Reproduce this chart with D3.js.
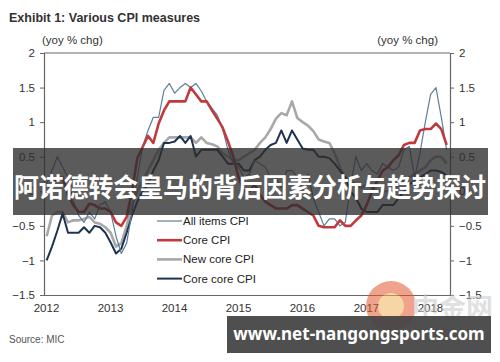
<!DOCTYPE html>
<html>
<head>
<meta charset="utf-8">
<script src="https://cdn.jsdelivr.net/npm/d3@7"></script>
<style>
  body { margin: 0; background: #fff; }
  text { font-family: "Liberation Sans", Arial, sans-serif; }
</style>
</head>
<body>
<svg id="chart" width="500" height="362"></svg>
<script>
var svg = d3.select('#chart');

// monthly, Jan 2012 .. Apr 2018
var allItems = [0.1,0.3,0.5,0.35,0.2,-0.15,-0.35,-0.45,-0.3,-0.4,-0.2,-0.15,
  -0.3,-0.65,-0.9,-0.75,-0.3,0.2,0.65,0.88,1.07,1.07,1.46,1.56,
  1.42,1.5,1.56,1.5,1.56,1.45,1.3,1.2,1.1,0.9,0.6,0.4,
  0.35,0.2,0.25,0.45,0.4,0.35,0.2,0.2,0.05,0.3,0.3,0.2,
  0.0,0.25,-0.1,-0.3,-0.5,-0.4,-0.4,-0.5,-0.45,0.1,0.5,0.3,
  0.4,0.3,0.25,0.4,0.35,0.3,0.35,0.6,0.65,0.2,0.55,1.0,
  1.4,1.5,1.07,0.6];
var coreCPI = [-0.05,0.1,0.2,0.2,-0.05,-0.2,-0.3,-0.3,-0.18,-0.2,-0.25,-0.25,
  -0.3,-0.45,-0.5,-0.37,0.0,0.48,0.64,0.8,0.7,0.98,1.17,1.3,
  1.3,1.3,1.3,1.5,1.4,1.3,1.3,1.17,1.05,0.92,0.72,0.5,
  0.2,0.0,0.0,0.1,-0.05,-0.15,-0.2,-0.25,-0.25,-0.25,-0.2,-0.2,
  -0.25,-0.3,-0.35,-0.5,-0.52,-0.52,-0.52,-0.42,-0.5,-0.5,-0.42,-0.35,
  -0.2,0.0,0.15,0.3,0.35,0.45,0.52,0.67,0.7,0.7,0.88,0.9,
  0.9,0.98,0.9,0.67];
var newCore = [-0.65,-0.35,-0.3,-0.3,-0.45,-0.42,-0.42,-0.4,-0.37,-0.45,-0.47,-0.52,
  -0.6,-0.8,-0.75,-0.5,-0.2,0.0,0.15,0.3,0.45,0.6,0.7,0.78,
  0.78,0.78,0.78,0.78,0.7,0.78,0.7,0.68,0.65,0.55,0.5,0.45,
  0.45,0.5,0.55,0.6,0.7,0.78,0.9,1.05,1.13,1.1,1.3,1.06,
  1.0,0.95,0.87,0.75,0.72,0.7,0.55,0.35,0.2,0.15,0.1,0.05,
  0.1,0.05,0.0,0.0,0.0,0.05,0.1,0.15,0.2,0.25,0.3,0.35,
  0.45,0.5,0.5,0.4];
var coreCore = [-1.0,-0.8,-0.57,-0.32,-0.6,-0.6,-0.6,-0.52,-0.6,-0.5,-0.52,-0.6,
  -0.74,-0.9,-0.83,-0.6,-0.35,-0.15,0.0,0.1,0.3,0.45,0.7,0.7,
  0.72,0.8,0.7,0.8,0.5,0.6,0.6,0.6,0.6,0.5,0.4,0.4,
  0.4,0.3,0.3,0.45,0.5,0.6,0.67,0.7,0.88,0.7,0.88,0.75,
  0.62,0.6,0.6,0.5,0.5,0.48,0.4,0.3,0.2,0.0,-0.1,-0.25,
  -0.3,-0.3,-0.3,-0.2,-0.2,-0.2,-0.1,0.0,0.1,0.15,0.2,0.25,
  0.3,0.3,0.28,0.23];

var yTicks = [2, 1.5, 1, 0.5, 0, -0.5, -1, -1.5];
var yearTicks = [2012, 2013, 2014, 2015, 2016, 2017, 2018];

var seriesNames = ['All items CPI', 'Core CPI', 'New core CPI', 'Core core CPI'];
var seriesData = [allItems, coreCPI, newCore, coreCore];
var seriesColor = ['#5e7f9a', '#c0393d', '#a8a8a8', '#1d3450'];
var seriesWidth = [1.2, 2.6, 2.6, 2];

var plot = {l: 44, r: 450, t: 53, b: 295};

var xScale = d3.scaleLinear().domain([2012, 2018 + 4.13 / 12]).range([plot.l, plot.r]);
var yScale = d3.scaleLinear().domain([-1.5, 2]).range([plot.b, plot.t]);

// title
svg.append('text').attr('x', 9).attr('y', 22)
  .style('font-size', '12.5px').style('font-weight', 'bold').style('fill', '#333')
  .text('Exhibit 1: Various CPI measures');
svg.append('text').attr('x', 42).attr('y', 44)
  .style('font-size', '11.5px').style('fill', '#333').text('(yoy % chg)');
svg.append('text').attr('x', 438).attr('y', 44).attr('text-anchor', 'end')
  .style('font-size', '11.5px').style('fill', '#333').text('(yoy % chg)');

// frame
svg.append('line').attr('x1', plot.l).attr('x2', plot.r).attr('y1', plot.t).attr('y2', plot.t)
  .attr('stroke', '#666').attr('stroke-width', 1.2);

var yAxisL = svg.append('g').attr('transform', 'translate(' + plot.l + ',0)')
  .call(d3.axisLeft(yScale).tickValues(yTicks).tickSize(4).tickPadding(5).tickFormat(d3.format('')));
var yAxisR = svg.append('g').attr('transform', 'translate(' + plot.r + ',0)')
  .call(d3.axisRight(yScale).tickValues(yTicks).tickSize(4).tickPadding(5).tickFormat(d3.format('')));
var xAxis = svg.append('g').attr('transform', 'translate(0,' + plot.b + ')')
  .call(d3.axisBottom(xScale).tickValues(yearTicks).tickSize(0).tickPadding(9).tickFormat(d3.format('d')));

[yAxisL, yAxisR, xAxis].forEach(function(a) {
  a.select('.domain').attr('stroke', '#666').attr('stroke-width', 1.2);
  a.selectAll('.tick line').attr('stroke', '#666');
  a.selectAll('text').style('font-family', '"Liberation Sans", Arial, sans-serif')
    .style('font-size', '11.5px').style('fill', '#333');
});
xAxis.selectAll('text').attr('dx', 2);

var line = d3.line()
  .x(function(d, i) { return xScale(2012 + (i + 0.5) / 12); })
  .y(function(d) { return yScale(d); });

var drawOrder = [2, 3, 0, 1];
drawOrder.forEach(function(k) {
  svg.append('path').datum(seriesData[k])
    .attr('d', line).attr('fill', 'none')
    .attr('stroke', seriesColor[k]).attr('stroke-width', seriesWidth[k])
    .attr('stroke-linejoin', 'round');
});

// legend
var legend = svg.append('g').attr('transform', 'translate(157,221)');
seriesNames.forEach(function(name, i) {
  var g = legend.append('g').attr('transform', 'translate(0,' + (i * 19.2) + ')');
  g.append('line').attr('x1', 0).attr('x2', 25).attr('y1', 0).attr('y2', 0)
    .attr('stroke', seriesColor[i]).attr('stroke-width', seriesWidth[i]);
  g.append('text').attr('x', 26).attr('y', 4)
    .style('font-size', '11.5px').style('fill', '#222').text(name);
});

// source
svg.append('text').attr('x', 9).attr('y', 343)
  .style('font-size', '10px').style('fill', '#555').text('Source: MIC');

// watermark logo
var logo = svg.append('g').attr('opacity', 0.55);
logo.append('circle').attr('cx', 391).attr('cy', 306).attr('r', 25).attr('fill', '#e2592f');
logo.append('circle').attr('cx', 391).attr('cy', 306).attr('r', 13).attr('fill', '#f2b35a');
logo.append('text').attr('x', 412).attr('y', 318)
  .style('font-family', '"Noto Sans CJK SC", sans-serif').style('font-size', '27px')
  .style('font-weight', 'bold').style('fill', '#c8c8c8').text('中金网');
logo.append('text').attr('x', 413).attr('y', 330)
  .style('font-size', '6.5px').style('fill', '#999').text('CNGOLD.COM.CN');

// overlay banners
svg.append('rect').attr('x', 13).attr('y', 148).attr('width', 475).attr('height', 67)
  .attr('fill', 'rgb(45,45,45)').attr('fill-opacity', 0.78);
svg.append('text').attr('x', 250).attr('y', 197).attr('text-anchor', 'middle')
  .attr('textLength', 472).attr('lengthAdjust', 'spacingAndGlyphs')
  .style('font-family', '"Noto Sans CJK SC", sans-serif').style('font-size', '26px')
  .style('font-weight', 'bold').style('fill', '#fff')
  .text('阿诺德转会皇马的背后因素分析与趋势探讨');

svg.append('rect').attr('x', 227).attr('y', 316).attr('width', 264).attr('height', 37)
  .attr('fill', 'rgb(70,70,70)').attr('fill-opacity', 0.95);
svg.append('text').attr('x', 359).attr('y', 340).attr('text-anchor', 'middle')
  .style('font-family', '"Noto Sans", sans-serif').style('font-size', '17px')
  .style('font-weight', 'bold').style('fill', '#fff')
  .text('www.net-nangongsports.com');
</script>
</body>
</html>
